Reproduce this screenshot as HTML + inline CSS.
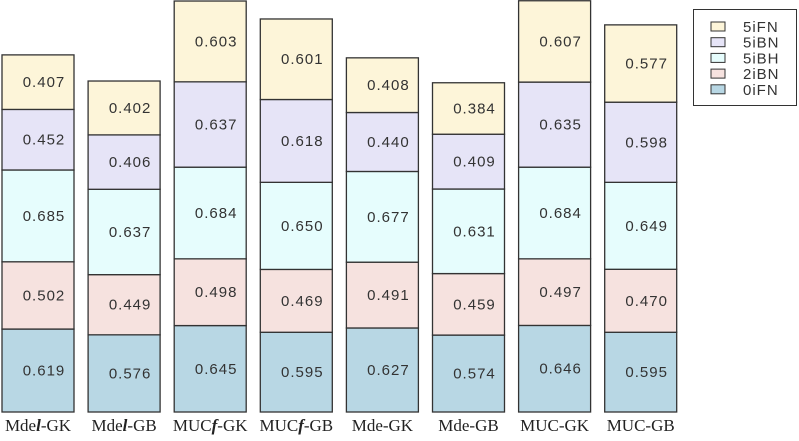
<!DOCTYPE html>
<html><head><meta charset="utf-8"><style>
body{margin:0;background:#fff;width:799px;height:436px;overflow:hidden}
svg text{font-family:"Liberation Sans",sans-serif}
.cat{font-family:"Liberation Serif",serif;font-size:17px;fill:#222}
</style></head><body>
<svg id="chart" width="799" height="436"></svg>
<script>
const categories=["Mde<b>l</b>-GK","Mde<b>l</b>-GB","MUC<b>f</b>-GK","MUC<b>f</b>-GB","Mde-GK","Mde-GB","MUC-GK","MUC-GB"];
const series=["0iFN","2iBN","5iBH","5iBN","5iFN"];
const v0iFN=[0.619,0.576,0.645,0.595,0.627,0.574,0.646,0.595];
const v2iBN=[0.502,0.449,0.498,0.469,0.491,0.459,0.497,0.470];
const v5iBH=[0.685,0.637,0.684,0.650,0.677,0.631,0.684,0.649];
const v5iBN=[0.452,0.406,0.637,0.618,0.440,0.409,0.635,0.598];
const v5iFN=[0.407,0.402,0.603,0.601,0.408,0.384,0.607,0.577];
const values=[v0iFN,v2iBN,v5iBH,v5iBN,v5iFN];
const colors=["#b8d7e4","#f6e2df","#e6fdfd","#e6e4f7","#fdf5d9"];
const NS="http://www.w3.org/2000/svg";
const svg=document.getElementById('chart');
const base=412, k=134;
const yS=v=>v*k;
const xB=i=>2+i*86.1;
const bw=72;
function mk(t,a){const e=document.createElementNS(NS,t);for(const n in a)e.setAttribute(n,a[n]);svg.appendChild(e);return e;}
categories.forEach((c,i)=>{
  let y=base;
  values.forEach((arr,s)=>{
    const h=yS(arr[i]);y-=h;
    const r=mk('rect',{x:xB(i),y:y,width:bw,height:h,fill:colors[s],stroke:'#333','stroke-width':1.3});
    
    
    const t=mk('text',{x:xB(i)+bw/2+6,y:y+h/2+5,'text-anchor':'middle','font-size':15,'letter-spacing':1,fill:'#333'});
    t.textContent=arr[i].toFixed(3);
    
    
  });
  const ct=mk('text',{x:xB(i)+bw/2,y:431,'text-anchor':'middle',class:'cat'});
  ct.innerHTML=c.replace(/<b>(.)<\/b>/,'<tspan font-weight="bold" font-style="italic">$1</tspan>');
  
  
});
const lg=mk('rect',{x:693.5,y:9.5,width:103,height:96,fill:'#fff',stroke:'#333','stroke-width':1});


const order=[4,3,2,1,0];
order.forEach((s,j)=>{
  const yy=22+j*15.7;
  const r=mk('rect',{x:711,y:yy,width:14,height:9,fill:colors[s],stroke:'#333','stroke-width':1});
  
  
  const t=mk('text',{x:743,y:yy+10,'font-size':15,'letter-spacing':1,fill:'#333'});
  t.textContent=series[s];
  
  
});
</script>
</body></html>
